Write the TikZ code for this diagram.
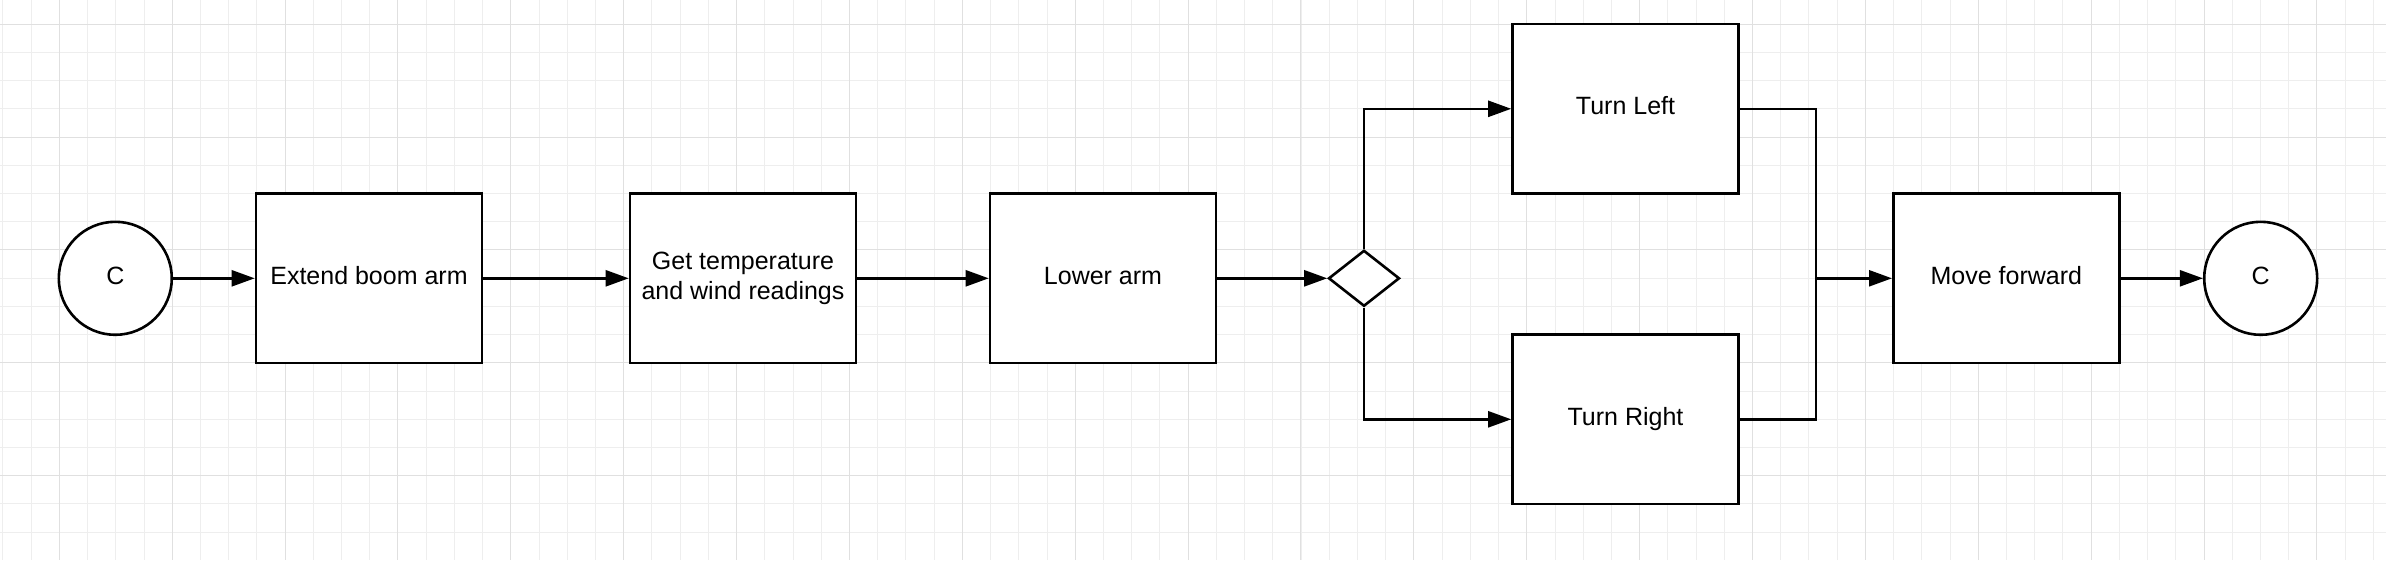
\documentclass[tikz,border=0pt]{standalone}
\usepackage{fontspec}
\setmainfont{Liberation Sans}
\usetikzlibrary{arrows.meta,shapes.geometric}
\definecolor{gridminor}{RGB}{238,238,238}
\definecolor{gridmajor}{RGB}{224,224,224}
\newcommand\boxfont{\fontsize{25}{29.5}\selectfont}
\begin{document}
\begin{tikzpicture}[x=1pt,y=-1pt,
  stepbox/.style={draw, fill=white, line width=2.6pt, minimum width=226pt,
    minimum height=169.4pt, inner sep=0pt, font=\boxfont, align=center},
  oneline/.style={text height=18pt, text depth=6.6pt},
  term/.style={circle, draw, fill=white, line width=2.6pt, minimum size=113pt,
    inner sep=0pt, font=\boxfont, text height=18pt, text depth=6.6pt},
  decision/.style={diamond, draw, fill=white, line width=2.6pt, minimum width=71pt,
    minimum height=56pt, inner sep=0pt},
  flow/.style={line width=2.4pt, -{Triangle[length=23pt,width=16pt]}},
  link/.style={line width=2.4pt}]
\useasboundingbox (0,0) rectangle (2386,560);
\fill[white] (0,0) rectangle (2386,560);
% grid (snapped to pixel centres)
\foreach \i in {0,...,84} {
  \pgfmathsetmacro\gx{floor(2.9+28.22*\i)+0.5}
  \draw[gridminor, line width=1pt] (\gx,0) -- (\gx,560);}
\foreach \j in {0,...,18} {
  \pgfmathsetmacro\gy{floor(24.2+28.22*\j)+0.5}
  \draw[gridminor, line width=1pt] (0,\gy) -- (2386,\gy);}
\foreach \i in {0,...,20} {
  \pgfmathsetmacro\gx{floor(59.3+112.88*\i)+0.5}
  \draw[gridmajor, line width=1pt] (\gx,0) -- (\gx,560);}
\foreach \j in {0,...,4} {
  \pgfmathsetmacro\gy{floor(24.2+112.88*\j)+0.5}
  \draw[gridmajor, line width=1pt] (0,\gy) -- (2386,\gy);}
% nodes
\node[term] (cl) at (115.3,278.3) {C};
\node[stepbox, oneline] (eb) at (369,278.3) {Extend boom arm};
\node[stepbox] (gt) at (743,278.3) {Get temperature\\and wind readings};
\node[stepbox, oneline] (la) at (1103,278.3) {Lower arm};
\node[decision] (dm) at (1364,278.3) {};
\node[stepbox, oneline] (tl) at (1625.5,108.8) {Turn Left};
\node[stepbox, oneline] (tr) at (1625.5,419.3) {Turn Right};
\node[stepbox, oneline] (mf) at (2006.3,278.3) {Move forward};
\node[term] (cr) at (2260.7,278.3) {C};
\coordinate (mx) at (1816,278.3);
% connectors
\draw[flow] (cl) -- (eb);
\draw[flow] (eb) -- (gt);
\draw[flow] (gt) -- (la);
\draw[flow] (la) -- (dm);
\draw[flow] (dm.north) |- (tl.west);
\draw[flow] (dm.south) |- (tr.west);
\draw[link] (tl.east) -| (mx) |- (tr.east);
\draw[flow] (mx) -- (mf.west);
\draw[flow] (mf) -- (cr);
\end{tikzpicture}
\end{document}
